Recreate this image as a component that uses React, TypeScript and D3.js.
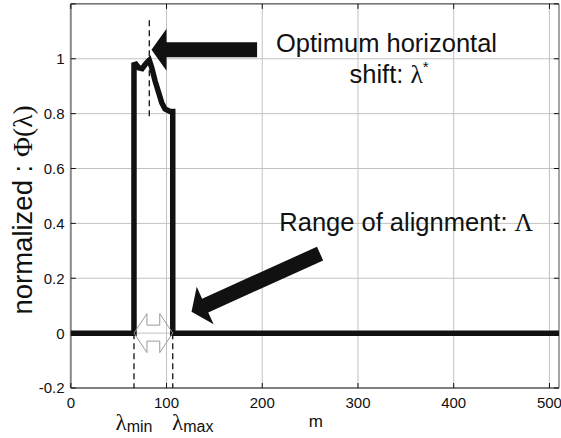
import React from "react";
import * as d3 from "d3";

// ---- data ----
const lambdaX = [0, 66, 66, 68, 71, 74.5, 77.5, 80.5, 82, 84.5, 88, 91.5, 95, 98.4, 103.6, 106.5, 106.5, 510];
const phiY = [0, 0, 0.978, 0.98, 0.967, 0.964, 0.978, 0.99, 0.995, 0.968, 0.92, 0.88, 0.84, 0.817, 0.808, 0.808, 0, 0];
const xTicks = [0, 100, 200, 300, 400, 500];
const yTicks = [-0.2, 0, 0.2, 0.4, 0.6, 0.8, 1, 1.2];
const yTickLabels = ["-0.2", "0", "0.2", "0.4", "0.6", "0.8", "1", ""];
const lambdaStar = 82;
const lambdaMin = 66;
const lambdaMax = 106.5;
const xDomain = [0, 510];
const yDomain = [-0.2, 1.2];

const W = 561;
const H = 438;
const L = 70.8, R = 559, T = 3.9, B = 388;

function arrowPts(tip: [number, number], tail: [number, number], hl: number, hh: number, sh: number) {
  const dx = tail[0] - tip[0], dy = tail[1] - tip[1];
  const len = Math.hypot(dx, dy);
  const ux = dx / len, uy = dy / len;
  const px = -uy, py = ux;
  const bx = tip[0] + ux * hl, by = tip[1] + uy * hl;
  const pts: [number, number][] = [
    tip,
    [bx + px * hh, by + py * hh],
    [bx + px * sh, by + py * sh],
    [tail[0] + px * sh, tail[1] + py * sh],
    [tail[0] - px * sh, tail[1] - py * sh],
    [bx - px * sh, by - py * sh],
    [bx - px * hh, by - py * hh],
  ];
  return pts.map((p) => p.join(",")).join(" ");
}

export default function App() {
  const x = d3.scaleLinear().domain(xDomain).range([L, R]);
  const y = d3.scaleLinear().domain(yDomain).range([B, T]);
  const line = d3
    .line<number>()
    .x((_, i) => x(lambdaX[i]))
    .y((d) => y(d));
  const path = line(phiY) || "";

  const sans = "'Liberation Sans', Arial, Helvetica, sans-serif";
  const serif = "'Liberation Serif', 'Times New Roman', serif";

  // hollow double arrow between lambdaMin and lambdaMax
  const aL = x(lambdaMin), aR = x(lambdaMax), a0 = y(0);
  const hl = 13, hh = 19.5, sh = 8;
  const dbl = [
    [aL, a0], [aL + hl, a0 - hh], [aL + hl, a0 - sh], [aR - hl, a0 - sh], [aR - hl, a0 - hh],
    [aR, a0], [aR - hl, a0 + hh], [aR - hl, a0 + sh], [aL + hl, a0 + sh], [aL + hl, a0 + hh],
  ].map((p) => p.join(",")).join(" ");

  const arrow1 = arrowPts([x(84.3), y(1.033)], [x(194.6), y(1.033)], 15, 21, 7.5);
  const arrow2 = arrowPts([x(126.1), y(0.078)], [x(260.4), y(0.29)], 15, 20.5, 7.5);

  return (
    <div>
      <style>{`body{margin:0}`}</style>
      <svg width={W} height={H} style={{ display: "block", background: "#fff" }}>
        {/* grid */}
        <g stroke="#c2c2c2" strokeWidth={1}>
          {xTicks.slice(1).map((t) => (
            <line key={"gx" + t} x1={x(t)} x2={x(t)} y1={T} y2={B} />
          ))}
          {yTicks.slice(1, -1).map((t) => (
            <line key={"gy" + t} x1={L} x2={R} y1={y(t)} y2={y(t)} />
          ))}
        </g>
        {/* box */}
        <line x1={L} x2={R} y1={T} y2={T} stroke="#222" strokeWidth={1} />
        <line x1={R} x2={R} y1={T} y2={B} stroke="#888" strokeWidth={1.5} />
        <line x1={L} x2={R} y1={B} y2={B} stroke="#555" strokeWidth={1.5} />
        <line x1={L} x2={L} y1={T} y2={B} stroke="#888" strokeWidth={2} />
        {/* ticks */}
        <g stroke="#111" strokeWidth={1}>
          {xTicks.map((t) => (
            <g key={"tx" + t}>
              <line x1={x(t)} x2={x(t)} y1={B} y2={B - 5} />
              <line x1={x(t)} x2={x(t)} y1={T} y2={T + 5} />
            </g>
          ))}
          {yTicks.map((t) => (
            <g key={"ty" + t}>
              <line x1={L} x2={L + 5} y1={y(t)} y2={y(t)} />
              <line x1={R} x2={R - 5} y1={y(t)} y2={y(t)} />
            </g>
          ))}
        </g>
        {/* tick labels */}
        <g fontFamily={sans} fontSize={15} fill="#111">
          {xTicks.map((t) => (
            <text key={"lx" + t} x={x(t)} y={407.5} textAnchor="middle">{t}</text>
          ))}
          {yTicks.map((t, i) => (
            <text key={"ly" + t} x={64.5} y={y(t)} dy="0.36em" textAnchor="end">{yTickLabels[i]}</text>
          ))}
        </g>
        {/* curve */}
        <path d={path} fill="none" stroke="#111" strokeWidth={5.5} strokeLinejoin="miter" />
        {/* dashed markers */}
        <g stroke="#111" strokeWidth={1.3} strokeDasharray="6,4">
          <line x1={x(lambdaStar)} x2={x(lambdaStar)} y1={y(1.14)} y2={y(0.785)} />
          <line x1={x(lambdaMin)} x2={x(lambdaMin)} y1={y(0)} y2={B} />
          <line x1={x(lambdaMax)} x2={x(lambdaMax)} y1={y(0)} y2={B} />
        </g>
        {/* hollow double arrow */}
        <polygon points={dbl} fill="none" stroke="#9a9a9a" strokeWidth={1} />
        {/* filled arrows */}
        <polygon points={arrow1} fill="#111" />
        <polygon points={arrow2} fill="#111" />
        {/* annotation text */}
        <g fontFamily={sans} fontSize={25.5} fill="#111">
          <text x={x(329.8)} y={y(1.025)} textAnchor="middle">Optimum horizontal</text>
          <text x={x(332.5)} y={y(0.9125)} textAnchor="middle">
            shift: <tspan fontFamily={serif}>λ</tspan>
            <tspan fontSize={15} dy={-11}>*</tspan>
          </text>
          <text x={x(217.8)} y={y(0.374)}>
            Range of alignment: <tspan fontFamily={serif}>Λ</tspan>
          </text>
        </g>
        {/* axis labels */}
        <text x={x(256)} y={427} textAnchor="middle" fontFamily={sans} fontSize={17} fill="#111">m</text>
        <text
          transform={`translate(32,${(T + B) / 2 + 14}) rotate(-90)`}
          textAnchor="middle"
          fontFamily={sans}
          fontSize={27.5}
          fill="#111"
        >
          normalized : <tspan fontFamily={serif}>Φ(λ)</tspan>
        </text>
        {/* lambda min / max labels */}
        <g fill="#111">
          <text x={x(lambdaMin)} y={430} textAnchor="middle">
            <tspan fontFamily={serif} fontSize={23}>λ</tspan>
            <tspan fontFamily={sans} fontSize={16} dy={2}>min</tspan>
          </text>
          <text x={x(lambdaMax) + 20} y={430} textAnchor="middle">
            <tspan fontFamily={serif} fontSize={23}>λ</tspan>
            <tspan fontFamily={sans} fontSize={16} dy={2}>max</tspan>
          </text>
        </g>
      </svg>
    </div>
  );
}
